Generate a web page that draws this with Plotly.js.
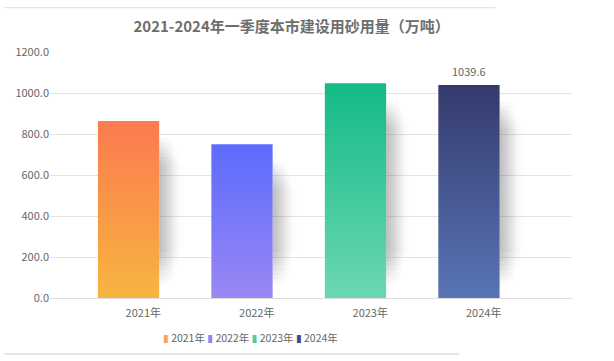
<!DOCTYPE html>
<html>
<head>
<meta charset="utf-8">
<script src="https://cdn.plot.ly/plotly-3.0.1.min.js"></script>
<style>html,body{margin:0;padding:0;background:#fff;}#chart{width:614px;height:361px;}</style>
</head>
<body>
<div id="chart"></div>
<script>
const categories = ['2021年', '2022年', '2023年', '2024年'];
const values = [864, 750, 1047, 1039.6];
const topColors = ['#fc7a50', '#5c6bfd', '#12bb86', '#343a6c'];
const bottomColors = ['#f7b540', '#9987f3', '#6dd7b4', '#5874b6'];
const legendColors = ['#f5a55a', '#8b86f0', '#4fcc9c', '#3c4a85'];
const labelText = ['', '', '', '1039.6'];
const yTicks = [0, 200, 400, 600, 800, 1000, 1200];

const barOffset = -0.13, barHalf = 0.27;
const traces = [];
// soft shadows (layered, fading)
values.forEach((v, i) => {
  const x0 = i + barOffset + barHalf;
  for (let k = 0; k < 8; k++) {
    const yt = v - 85 - k * 18, yb = 70 + k * 22, w = 0.13 + k * 0.013;
    const x1 = x0 + w;
    traces.push({
      type: 'scatter', mode: 'lines', fill: 'toself',
      x: [x0, x1, x1, x0, x0], y: [yb, yb, yt, yt, yb],
      line: {width: 0}, hoverinfo: 'skip', showlegend: false,
      fillcolor: 'rgba(0,0,0,0.03)',
      fillgradient: {type: 'horizontal', start: x0, stop: x1,
        colorscale: [[0, 'rgba(60,60,60,0.05)'], [1, 'rgba(60,60,60,0)']]}
    });
  }
});
// bars with vertical gradient
values.forEach((v, i) => {
  const xa = i + barOffset - barHalf, xb = i + barOffset + barHalf;
  traces.push({
    type: 'scatter', mode: 'lines', fill: 'toself', name: categories[i],
    x: [xa, xb, xb, xa, xa], y: [0, 0, v, v, 0],
    line: {width: 0, color: topColors[i]},
    fillcolor: bottomColors[i], showlegend: false,
    fillgradient: {type: 'vertical', start: 0, stop: v,
      colorscale: [[0, bottomColors[i]], [1, topColors[i]]]},
    hoverinfo: 'x+y'
  });
});

const annotations = [];
values.forEach((v, i) => {
  if (labelText[i]) annotations.push({
    x: i + barOffset, y: v, xref: 'x', yref: 'y', text: labelText[i],
    showarrow: false, yshift: 14, font: {size: 11, color: '#666'}
  });
});
// compact legend row
annotations.push({
  xref: 'paper', yref: 'paper', x: 0.385, y: -0.16, xanchor: 'center', yanchor: 'middle',
  showarrow: false, font: {size: 10.5, color: '#666'},
  text: categories.map((c, i) => '<span style="color:' + legendColors[i] + ';font-family:DejaVu Sans">▮</span> ' + c).join(' ')
});

const layout = {
  width: 614, height: 361,
  margin: {l: 50, r: 42, t: 52, b: 63},
  paper_bgcolor: '#fff', plot_bgcolor: '#fff',
  font: {family: '"Noto Sans CJK SC", "Noto Sans", sans-serif', color: '#666', size: 11},
  title: {text: '<b>2021-2024年一季度本市建设用砂用量（万吨）</b>', x: 0.475, xanchor: 'center',
    y: 0.925, yanchor: 'middle', font: {size: 15, color: '#6e6e6e'}},
  xaxis: {range: [-0.822, 3.778], tickvals: [0, 1, 2, 3], ticktext: categories,
    showgrid: false, zeroline: false, showline: true, linecolor: '#ddd', linewidth: 1,
    ticks: '', ticklabelstandoff: 5, tickfont: {size: 11, color: '#666'}, fixedrange: true},
  yaxis: {range: [0, 1200], tickvals: yTicks, ticktext: yTicks.map(t => t.toFixed(1)),
    showgrid: true, gridcolor: '#e3e3e3', gridwidth: 1, zeroline: false, showline: false,
    ticks: '', ticklen: 0, tickfont: {size: 11, color: '#666'}, fixedrange: true},
  showlegend: false,
  annotations: annotations,
  shapes: [
    {type: 'line', xref: 'paper', yref: 'paper', x0: -0.088, x1: 0.853, y0: 1.18, y1: 1.18,
      line: {color: '#ddd', width: 1}},
    {type: 'line', xref: 'paper', yref: 'paper', x0: -0.088, x1: 0.784, y0: -0.228, y1: -0.228,
      line: {color: '#e6e6e6', width: 2}}
  ]
};
Plotly.newPlot('chart', traces, layout, {displayModeBar: false, staticPlot: true});
</script>
</body>
</html>
